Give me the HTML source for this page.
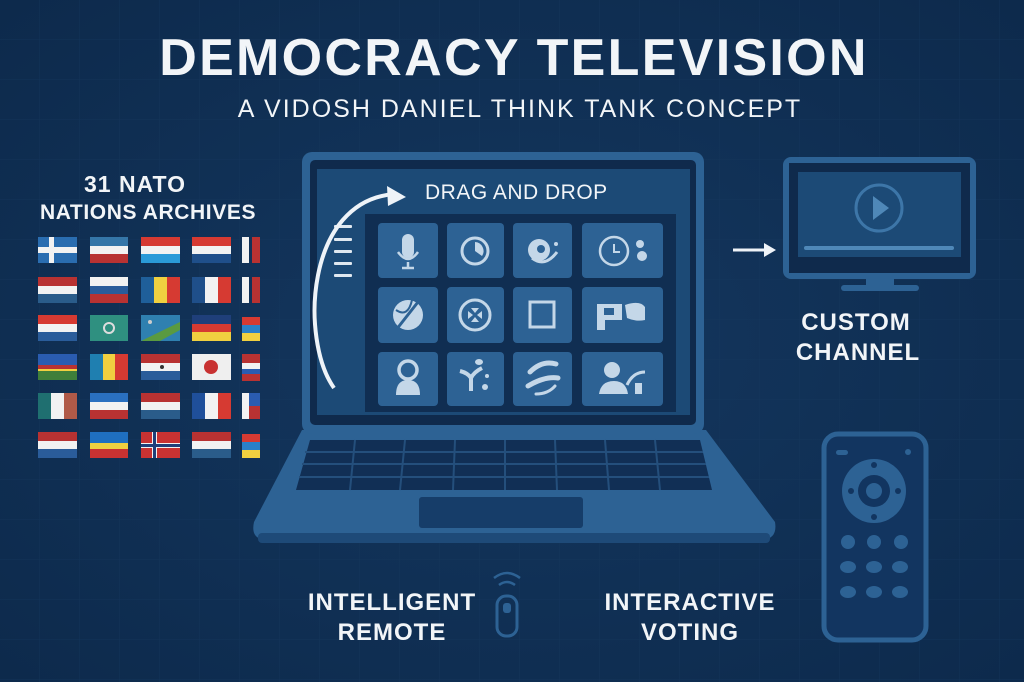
<!DOCTYPE html>
<html><head><meta charset="utf-8"><style>
html,body{margin:0;padding:0;background:#0f2d52;}
svg{display:block}
text{font-family:"Liberation Sans","DejaVu Sans",sans-serif;font-weight:bold;fill:#f2f5f8}
</style></head><body>
<svg width="1024" height="682" viewBox="0 0 1024 682" xmlns="http://www.w3.org/2000/svg">
<defs>
<pattern id="g" width="40" height="40" patternUnits="userSpaceOnUse"><path d="M40 0V40H0" fill="none" stroke="#17395f" stroke-width="1"/></pattern>
<radialGradient id="bg" cx="50%" cy="50%" r="70%"><stop offset="0" stop-color="#14375f"/><stop offset="1" stop-color="#0d2a4c"/></radialGradient>
</defs>
<rect width="1024" height="682" fill="url(#bg)"/>
<rect width="1024" height="682" fill="url(#g)" opacity="0.6"/>

<text x="514" y="75" font-size="52" text-anchor="middle" letter-spacing="2.3">DEMOCRACY TELEVISION</text>
<text x="520" y="117" font-size="25" text-anchor="middle" style="font-weight:normal" letter-spacing="2">A VIDOSH DANIEL THINK TANK CONCEPT</text>

<text x="135" y="192" font-size="23" text-anchor="middle" letter-spacing="1">31 NATO</text>
<text x="148" y="219" font-size="21" text-anchor="middle" letter-spacing="0.6">NATIONS ARCHIVES</text>

<!-- flags -->
<g>
<rect x="38" y="237" width="39" height="26" fill="#2a6db0"/><rect x="38" y="247" width="39" height="6" fill="#f2f2f2"/><rect x="49" y="237" width="5" height="26" fill="#f2f2f2"/>
<rect x="90" y="237" width="38" height="9" fill="#3576a8"/><rect x="90" y="246" width="38" height="8" fill="#f2f2f2"/><rect x="90" y="254" width="38" height="9" fill="#b83232"/>
<rect x="141" y="237" width="39" height="9" fill="#d63a32"/><rect x="141" y="246" width="39" height="8" fill="#f2f2f2"/><rect x="141" y="254" width="39" height="9" fill="#2a9ad8"/>
<rect x="192" y="237" width="39" height="9" fill="#d63a32"/><rect x="192" y="246" width="39" height="8" fill="#f2f2f2"/><rect x="192" y="254" width="39" height="9" fill="#1f4f8a"/>
<rect x="242" y="237" width="7" height="26" fill="#f2f2f2"/><rect x="252" y="237" width="8" height="26" fill="#b83232"/>
<rect x="38" y="277" width="39" height="9" fill="#b83232"/><rect x="38" y="286" width="39" height="8" fill="#f2f2f2"/><rect x="38" y="294" width="39" height="9" fill="#2a5c8a"/>
<rect x="90" y="277" width="38" height="9" fill="#f2f2f2"/><rect x="90" y="286" width="38" height="8" fill="#2a5c9a"/><rect x="90" y="294" width="38" height="9" fill="#b83232"/>
<rect x="141" y="277" width="13" height="26" fill="#1f5f9a"/><rect x="154" y="277" width="13" height="26" fill="#f0d040"/><rect x="167" y="277" width="13" height="26" fill="#d63a32"/>
<rect x="192" y="277" width="13" height="26" fill="#1f4f8a"/><rect x="205" y="277" width="13" height="26" fill="#f2f2f2"/><rect x="218" y="277" width="13" height="26" fill="#d63a32"/>
<rect x="242" y="277" width="7" height="26" fill="#f2f2f2"/><rect x="252" y="277" width="8" height="26" fill="#b83232"/>
<rect x="38" y="315" width="39" height="9" fill="#d63a32"/><rect x="38" y="324" width="39" height="8" fill="#f2f2f2"/><rect x="38" y="332" width="39" height="9" fill="#2a5c9a"/>
<rect x="90" y="315" width="38" height="26" fill="#2f9080"/><circle cx="109" cy="328" r="5" fill="none" stroke="#ddd" stroke-width="2"/>
<rect x="141" y="315" width="39" height="26" fill="#2f80b0"/><polygon points="141,341 180,322 180,330 160,341" fill="#5a9a40"/><circle cx="150" cy="322" r="2" fill="#ccc"/>
<rect x="192" y="315" width="39" height="9" fill="#1f3f7a"/><rect x="192" y="324" width="39" height="8" fill="#d63a32"/><rect x="192" y="332" width="39" height="9" fill="#f0d040"/>
<rect x="242" y="317" width="18" height="8" fill="#d63a32"/><rect x="242" y="325" width="18" height="8" fill="#2a80c8"/><rect x="242" y="333" width="18" height="8" fill="#f0d040"/>
<rect x="38" y="354" width="39" height="11" fill="#2a5cb0"/><rect x="38" y="365" width="39" height="4" fill="#b83232"/><rect x="38" y="369" width="39" height="2" fill="#f0d040"/><rect x="38" y="371" width="39" height="9" fill="#3f7f3a"/>
<rect x="90" y="354" width="13" height="26" fill="#1f7fb0"/><rect x="103" y="354" width="12" height="26" fill="#f0d040"/><rect x="115" y="354" width="13" height="26" fill="#d63a32"/>
<rect x="141" y="354" width="39" height="9" fill="#b83232"/><rect x="141" y="363" width="39" height="8" fill="#f2f2f2"/><rect x="141" y="371" width="39" height="9" fill="#2a5c9a"/><circle cx="162" cy="367" r="2" fill="#333"/>
<rect x="192" y="354" width="39" height="26" fill="#efefef"/><circle cx="211" cy="367" r="7" fill="#c83232"/>
<rect x="242" y="354" width="18" height="9" fill="#b83232"/><rect x="242" y="363" width="18" height="6" fill="#f2f2f2"/><rect x="242" y="369" width="18" height="5" fill="#2a5cb0"/><rect x="242" y="374" width="18" height="7" fill="#b83232"/>
<rect x="38" y="393" width="13" height="26" fill="#1f6f70"/><rect x="51" y="393" width="13" height="26" fill="#f2f2f2"/><rect x="64" y="393" width="13" height="26" fill="#b05a48"/>
<rect x="90" y="393" width="38" height="9" fill="#2a70c0"/><rect x="90" y="402" width="38" height="8" fill="#f2f2f2"/><rect x="90" y="410" width="38" height="9" fill="#b83232"/>
<rect x="141" y="393" width="39" height="9" fill="#b83232"/><rect x="141" y="402" width="39" height="8" fill="#f2f2f2"/><rect x="141" y="410" width="39" height="9" fill="#2a5c8a"/>
<rect x="192" y="393" width="13" height="26" fill="#1f4f9a"/><rect x="205" y="393" width="13" height="26" fill="#f2f2f2"/><rect x="218" y="393" width="13" height="26" fill="#d63a32"/>
<rect x="242" y="393" width="7" height="26" fill="#f2f2f2"/><rect x="249" y="393" width="11" height="13" fill="#2a5cb0"/><rect x="249" y="406" width="11" height="13" fill="#b83232"/>
<rect x="38" y="432" width="39" height="9" fill="#b83232"/><rect x="38" y="441" width="39" height="8" fill="#f2f2f2"/><rect x="38" y="449" width="39" height="9" fill="#2a5c9a"/>
<rect x="90" y="432" width="38" height="11" fill="#1f6fc0"/><rect x="90" y="443" width="38" height="6" fill="#f0d040"/><rect x="90" y="449" width="38" height="9" fill="#c83232"/>
<rect x="141" y="432" width="39" height="26" fill="#c83232"/><rect x="152" y="432" width="5" height="26" fill="#f2f2f2"/><rect x="141" y="443" width="39" height="5" fill="#f2f2f2"/><rect x="153" y="432" width="3" height="26" fill="#1f3f7a"/><rect x="141" y="444" width="39" height="3" fill="#1f3f7a"/>
<rect x="192" y="432" width="39" height="9" fill="#b83232"/><rect x="192" y="441" width="39" height="8" fill="#f2f2f2"/><rect x="192" y="449" width="39" height="9" fill="#2a5c8a"/>
<rect x="242" y="434" width="18" height="8" fill="#d63a32"/><rect x="242" y="442" width="18" height="8" fill="#2a80c8"/><rect x="242" y="450" width="18" height="8" fill="#f0d040"/>
</g>

<!-- laptop base -->
<path d="M302 430 H706 L775 522 Q778 540 760 540 H268 Q250 540 254 522 Z" fill="#2d6294"/>
<rect x="258" y="533" width="512" height="10" rx="4" fill="#1e4a78"/>
<path d="M310 440 H700 L712 490 H296 Z" fill="#112f55"/>
<g stroke="#244f7c" stroke-width="2">
<line x1="305" y1="452" x2="703" y2="452"/><line x1="302" y1="464" x2="706" y2="464"/><line x1="299" y1="477" x2="709" y2="477"/>
<line x1="355" y1="440" x2="350" y2="490"/><line x1="405" y1="440" x2="400" y2="490"/><line x1="455" y1="440" x2="453" y2="490"/><line x1="505" y1="440" x2="505" y2="490"/><line x1="555" y1="440" x2="557" y2="490"/><line x1="605" y1="440" x2="609" y2="490"/><line x1="655" y1="440" x2="660" y2="490"/>
</g>
<rect x="419" y="497" width="164" height="31" rx="3" fill="#163d69"/>
<!-- lid -->
<rect x="302" y="152" width="402" height="282" rx="10" fill="#2d6294"/>
<rect x="310" y="160" width="386" height="265" rx="5" fill="#0f2a4c"/>
<rect x="317" y="169" width="373" height="246" fill="#1c4a76"/>
<rect x="365" y="214" width="311" height="198" fill="#102e52"/>
<g fill="#dfe8f0"><rect x="334" y="225" width="18" height="3" rx="1"/><rect x="334" y="238" width="18" height="3" rx="1"/><rect x="334" y="250" width="18" height="3" rx="1"/><rect x="334" y="262" width="18" height="3" rx="1"/><rect x="334" y="274" width="18" height="3" rx="1"/></g>
<path d="M334 388 C300 340 305 200 395 194" fill="none" stroke="#eef3f8" stroke-width="4"/>
<polygon points="406,197 387,186 388,206" fill="#eef3f8"/>
<text x="425" y="199" font-size="21" style="font-weight:500" letter-spacing="0.5">DRAG AND DROP</text>
<g fill="#2d6294">
<rect x="378" y="223" width="60" height="55" rx="4"/><rect x="447" y="223" width="57" height="55" rx="4"/><rect x="513" y="223" width="59" height="55" rx="4"/><rect x="582" y="223" width="81" height="55" rx="4"/>
<rect x="378" y="287" width="60" height="56" rx="4"/><rect x="447" y="287" width="57" height="56" rx="4"/><rect x="513" y="287" width="59" height="56" rx="4"/><rect x="582" y="287" width="81" height="56" rx="4"/>
<rect x="378" y="352" width="60" height="54" rx="4"/><rect x="447" y="352" width="57" height="54" rx="4"/><rect x="513" y="352" width="59" height="54" rx="4"/><rect x="582" y="352" width="81" height="54" rx="4"/>
</g>
<g fill="#c4d7e8" stroke="#c4d7e8">
<rect x="402" y="234" width="12" height="24" rx="6" stroke="none"/><path d="M398 252 Q408 266 418 252" fill="none" stroke-width="2.5"/><line x1="408" y1="262" x2="408" y2="268" stroke-width="2.5"/><line x1="402" y1="268" x2="414" y2="268" stroke-width="2.5"/>
<circle cx="475" cy="251" r="13" fill="none" stroke-width="3"/><path d="M475 251 L475 242 A9 9 0 0 1 482 256 Z" stroke="none"/>
<circle cx="539" cy="250" r="11" stroke="none"/><circle cx="541" cy="249" r="4" fill="#2d6294" stroke="none"/><path d="M532 258 Q545 268 557 252" fill="none" stroke-width="3"/><circle cx="556" cy="244" r="2" stroke="none"/>
<circle cx="614" cy="251" r="14" fill="none" stroke-width="2.5"/><path d="M614 244 V252 H620" fill="none" stroke-width="2"/><circle cx="640" cy="244" r="4" stroke="none"/><circle cx="642" cy="256" r="5" stroke="none"/>
<circle cx="408" cy="315" r="15" stroke="none"/><line x1="396" y1="330" x2="418" y2="302" stroke="#2d6294" stroke-width="3"/><path d="M396 310 Q408 318 412 300" fill="none" stroke="#2d6294" stroke-width="2"/>
<circle cx="475" cy="315" r="15" fill="none" stroke-width="3"/><path d="M471 308 L475 313 L479 308 Z M471 322 L475 317 L479 322 Z M468 311 L473 315 L468 319Z M482 311 L477 315 L482 319Z" stroke="none"/>
<rect x="530" y="302" width="24" height="25" fill="none" stroke-width="3"/>
<path d="M597 304 H622 V320 H605 V330 H597 Z" stroke="none"/><rect x="604" y="308" width="10" height="7" fill="#2d6294" stroke="none"/><path d="M625 305 Q640 300 645 307 V320 Q636 322 627 318 Z" stroke="none"/>
<circle cx="408" cy="370" r="9" fill="none" stroke-width="3.5"/><path d="M396 395 Q396 380 408 380 Q420 380 420 395 Z" stroke="none"/>
<path d="M460 371 Q468 373 471 378 Q474 372 482 368 M471 378 V391" fill="none" stroke-width="4"/><ellipse cx="479" cy="362" rx="4" ry="3" stroke="none"/><circle cx="485" cy="387" r="3" stroke="none"/><circle cx="487" cy="376" r="2" stroke="none"/>
<path d="M530 372 Q542 360 556 364" fill="none" stroke-width="5" stroke-linecap="round"/><path d="M528 386 Q545 376 558 378" fill="none" stroke-width="5" stroke-linecap="round"/><path d="M536 394 Q548 394 555 386" fill="none" stroke-width="3" stroke-linecap="round"/>
<circle cx="612" cy="370" r="8" stroke="none"/><path d="M599 394 Q601 381 614 381 Q626 381 628 394 Z" stroke="none"/><path d="M627 385 Q633 372 645 372" fill="none" stroke-width="3"/><rect x="635" y="383" width="7" height="11" stroke="none"/>
</g>

<line x1="733" y1="250" x2="765" y2="250" stroke="#eef3f8" stroke-width="3"/>
<polygon points="776,250 764,243 764,257" fill="#eef3f8"/>

<!-- TV -->
<rect x="786" y="160" width="187" height="116" rx="5" fill="none" stroke="#2d6294" stroke-width="6"/>
<rect x="789" y="163" width="181" height="110" fill="#0f2a4c"/>
<rect x="798" y="172" width="163" height="85" fill="#1c4a76"/>
<circle cx="879" cy="208" r="23" fill="none" stroke="#3d76a8" stroke-width="3"/>
<polygon points="873,196 873,220 889,208" fill="#4f88b8"/>
<line x1="806" y1="248" x2="952" y2="248" stroke="#4f88b8" stroke-width="4" stroke-linecap="round"/>
<rect x="866" y="277" width="28" height="8" fill="#2d6294"/>
<rect x="841" y="285" width="78" height="6" rx="3" fill="#2d6294"/>
<text x="856" y="330" font-size="24" text-anchor="middle" letter-spacing="1">CUSTOM</text>
<text x="858" y="360" font-size="24" text-anchor="middle" letter-spacing="1">CHANNEL</text>

<!-- remote -->
<rect x="824" y="434" width="102" height="206" rx="14" fill="#123560" stroke="#2d6294" stroke-width="5"/>
<rect x="836" y="450" width="12" height="5" rx="2.5" fill="#2d6294"/><circle cx="908" cy="452" r="3" fill="#2d6294"/>
<circle cx="874" cy="491" r="32" fill="#2d6294"/><circle cx="874" cy="491" r="16" fill="#123560"/><circle cx="874" cy="491" r="8" fill="#2d6294"/>
<g fill="#123560"><circle cx="874" cy="465" r="3"/><circle cx="874" cy="517" r="3"/><circle cx="851" cy="491" r="3"/><circle cx="898" cy="491" r="3"/></g>
<g fill="#2d6294">
<circle cx="848" cy="542" r="7"/><circle cx="874" cy="542" r="7"/><circle cx="901" cy="542" r="7"/>
<ellipse cx="848" cy="567" rx="8" ry="6"/><ellipse cx="874" cy="567" rx="8" ry="6"/><ellipse cx="900" cy="567" rx="8" ry="6"/>
<ellipse cx="848" cy="592" rx="8" ry="6"/><ellipse cx="874" cy="592" rx="8" ry="6"/><ellipse cx="900" cy="592" rx="8" ry="6"/>
</g>

<rect x="497" y="596" width="20" height="40" rx="9" fill="none" stroke="#2d6294" stroke-width="3"/>
<rect x="503" y="603" width="8" height="10" rx="3" fill="#2d6294"/>
<path d="M499 585 Q507 579 515 585" fill="none" stroke="#2d6294" stroke-width="2.5"/>
<path d="M494 578 Q507 568 520 578" fill="none" stroke="#2d6294" stroke-width="2.5"/>

<text x="392" y="610" font-size="24" text-anchor="middle" letter-spacing="1">INTELLIGENT</text>
<text x="392" y="640" font-size="24" text-anchor="middle" letter-spacing="1">REMOTE</text>
<text x="690" y="610" font-size="24" text-anchor="middle" letter-spacing="1">INTERACTIVE</text>
<text x="690" y="640" font-size="24" text-anchor="middle" letter-spacing="1">VOTING</text>
</svg>
</body></html>
